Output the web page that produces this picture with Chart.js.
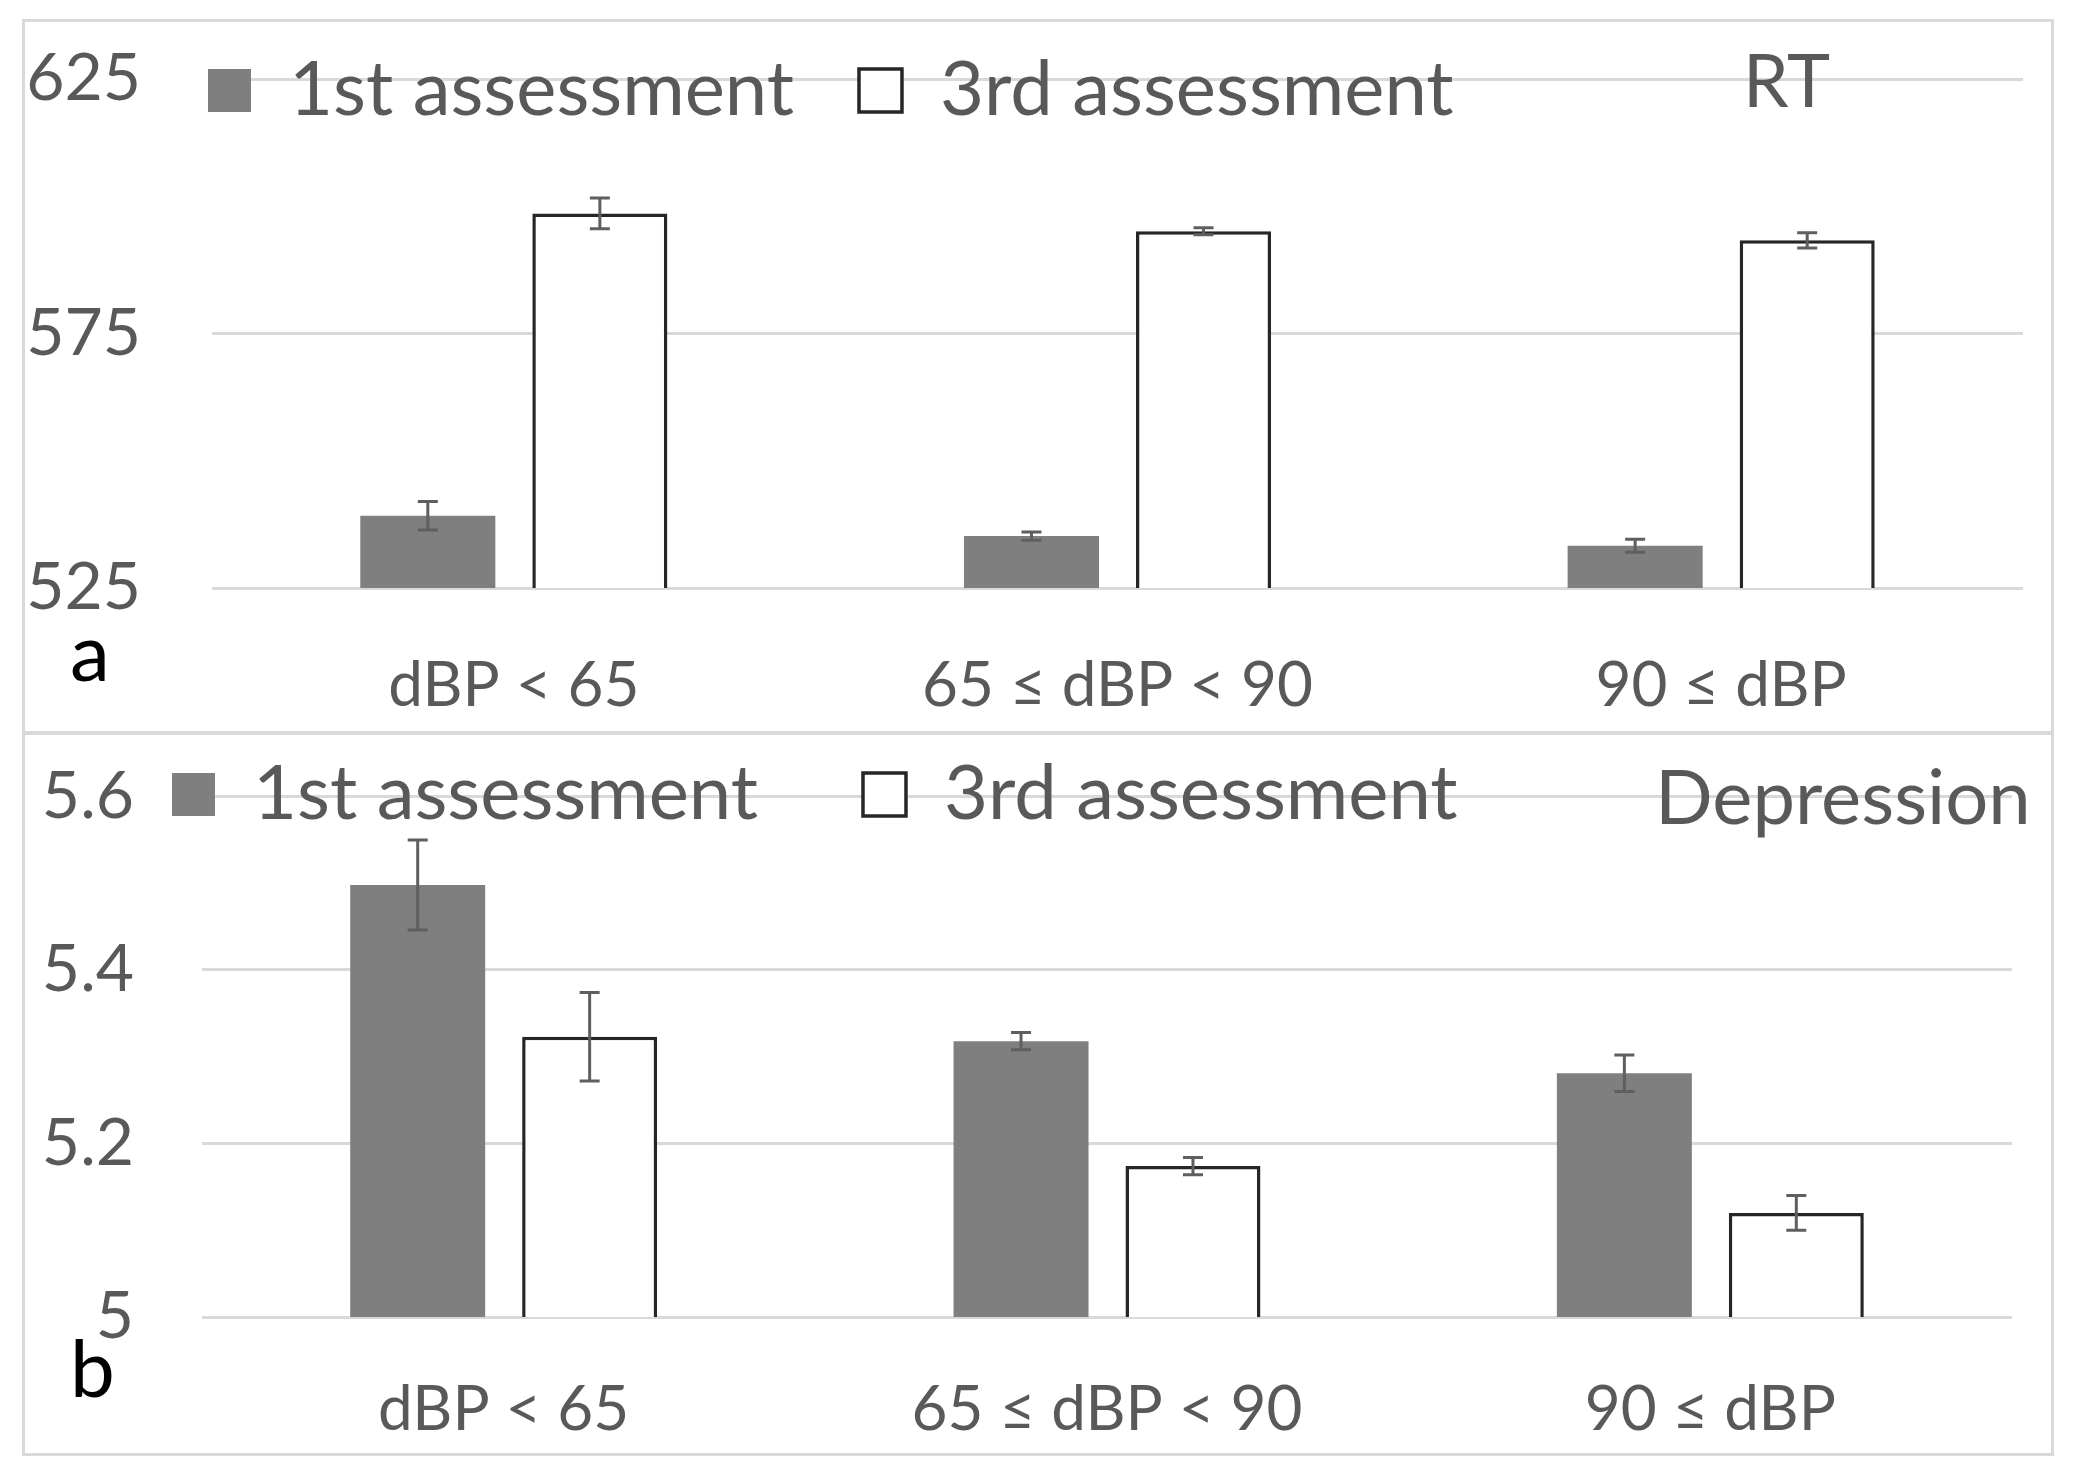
<!DOCTYPE html>
<html>
<head>
<meta charset="utf-8">
<script src="https://cdn.jsdelivr.net/npm/chart.js@4.4.0/dist/chart.umd.min.js"></script>
<style>
body { margin: 0; width: 2073px; height: 1472px; background: #fff; position: relative; overflow: hidden; font-family: Lato, sans-serif; }
.panel { position: absolute; border: 3px solid #d9d9d9; box-sizing: border-box; }
canvas { position: absolute; left: 0; }
.lbl { position: absolute; line-height: 1; white-space: nowrap; }
</style>
</head>
<body>
<div class="panel" style="left:22px; top:19px; width:2032px; height:715px;"></div>
<div class="panel" style="left:22px; top:732px; width:2032px; height:724px;"></div>
<canvas id="rtCanvas" style="top:0px;"></canvas>
<canvas id="depCanvas" style="top:733px;"></canvas>
<div class="lbl" style="left:1743px; top:43px; font-size:73px; color:#595959;">RT</div>
<div class="lbl" style="left:1655px; top:757px; font-size:76px; color:#595959;">Depression</div>
<div class="lbl" style="left:70px; top:610px; font-size:80px; color:#000;">a</div>
<div class="lbl" style="left:70px; top:1326px; font-size:80px; color:#000;">b</div>
<script>
var categories = ['dBP < 65', '65 \u2264 dBP < 90', '90 \u2264 dBP'];
var seriesNames = ['1st assessment', '3rd assessment'];

// RT panel (a)
var rtFirst = [539.2, 535.2, 533.3];
var rtThird = [598.6, 595.1, 593.3];
var rtFirstErr = [2.8, 0.8, 1.3];
var rtThirdErr = [3.0, 0.7, 1.5];
var rtTicks = [525, 575, 625];

// Depression panel (b)
var depFirst = [5.498, 5.318, 5.281];
var depThird = [5.323, 5.174, 5.120];
var depFirstErr = [0.052, 0.010, 0.021];
var depThirdErr = [0.051, 0.010, 0.020];
var depTicks = [5, 5.2, 5.4, 5.6];

var textColor = '#595959';

// draws the error bars on top of each bar
var errorBars = {
    id: 'errorBars',
    afterDatasetsDraw: function (chart) {
        var ctx = chart.ctx;
        var yScale = chart.scales.y;
        ctx.save();
        ctx.strokeStyle = '#5f5f5f';
        ctx.lineWidth = 3;
        chart.data.datasets.forEach(function (ds, i) {
            var meta = chart.getDatasetMeta(i);
            meta.data.forEach(function (bar, j) {
                var v = ds.data[j];
                var e = ds.errors[j];
                var top = yScale.getPixelForValue(v + e);
                var bottom = yScale.getPixelForValue(v - e);
                ctx.beginPath();
                ctx.moveTo(bar.x, top);
                ctx.lineTo(bar.x, bottom);
                ctx.moveTo(bar.x - 10, top);
                ctx.lineTo(bar.x + 10, top);
                ctx.moveTo(bar.x - 10, bottom);
                ctx.lineTo(bar.x + 10, bottom);
                ctx.stroke();
            });
        });
        ctx.restore();
    }
};

// legend sits inside the plot, over the top gridline
var legendShift = {
    id: 'legendShift',
    afterLayout: function (chart, args, opts) {
        var lg = chart.legend;
        var pad = lg.options.labels.padding;
        var w = lg.right - lg.left;
        lg.left = opts.x - pad;
        lg.right = lg.left + w;
        lg.top = opts.y - pad;
        lg.bottom = lg.top + 2 * pad + 120; // legend clips to its own box
    }
};

function buildPanel(canvasId, w, h, first, third, firstErr, thirdErr, ticks, lay) {
    var canvas = document.getElementById(canvasId);
    canvas.width = w;
    canvas.height = h;
    canvas.style.width = w + 'px';
    canvas.style.height = h + 'px';

    var data = {
        labels: categories,
        datasets: [{
            label: seriesNames[0],
            backgroundColor: '#7f7f7f',
            borderWidth: 0,
            data: first,
            errors: firstErr
        }, {
            label: seriesNames[1],
            backgroundColor: '#ffffff',
            borderColor: '#262626',
            borderWidth: 3.5,
            data: third,
            errors: thirdErr
        }]
    };

    var options = {
        responsive: false,
        animation: false,
        devicePixelRatio: 1,
        categoryPercentage: 0.57,
        barPercentage: 0.785,
        layout: {
            padding: { top: lay.top, right: lay.right, left: 0, bottom: 0 }
        },
        scales: {
            x: {
                grid: { display: false },
                border: { display: false },
                ticks: {
                    color: textColor,
                    padding: lay.xPad,
                    maxRotation: 0,
                    font: { family: 'Lato', size: 62 }
                },
                afterFit: function (scale) { scale.height = lay.xHeight; }
            },
            y: {
                min: ticks[0],
                max: ticks[ticks.length - 1],
                border: { display: false },
                grid: { color: '#d9d9d9', lineWidth: 3, drawTicks: false },
                ticks: {
                    color: textColor,
                    padding: lay.yPad,
                    font: { family: 'Lato', size: 66 },
                    callback: function (value) { return String(Math.round(value * 100) / 100); }
                },
                afterBuildTicks: function (scale) {
                    scale.ticks = ticks.map(function (v) { return { value: v }; });
                },
                afterFit: function (scale) {
                    scale.width = lay.yWidth;
                    scale.paddingTop = 0;
                    scale.paddingBottom = 0;
                }
            }
        },
        plugins: {
            tooltip: { enabled: false },
            legend: {
                position: 'top',
                align: 'start',
                maxHeight: 1,
                labels: {
                    color: textColor,
                    boxWidth: 43,
                    boxHeight: 43,
                    padding: lay.legendPad,
                    font: { family: 'Lato', size: 76 }
                }
            },
            legendShift: { x: lay.legendX, y: lay.legendY }
        }
    };

    return new Chart(canvas.getContext('2d'), {
        type: 'bar',
        data: data,
        options: options,
        plugins: [errorBars, legendShift]
    });
}

function drawAll() {
    buildPanel('rtCanvas', 2073, 733, rtFirst, rtThird, rtFirstErr, rtThirdErr, rtTicks, {
        top: 78, right: 50, yWidth: 212, xHeight: 145, yPad: 71, xPad: 53,
        legendX: 208, legendY: 52.5, legendPad: 65
    });
    buildPanel('depCanvas', 2073, 739, depFirst, depThird, depFirstErr, depThirdErr, depTicks, {
        top: 62.5, right: 61, yWidth: 202, xHeight: 155, yPad: 68, xPad: 48,
        legendX: 172, legendY: 23.5, legendPad: 105
    });
}

document.fonts.load('66px Lato').then(drawAll, drawAll);
</script>
</body>
</html>
